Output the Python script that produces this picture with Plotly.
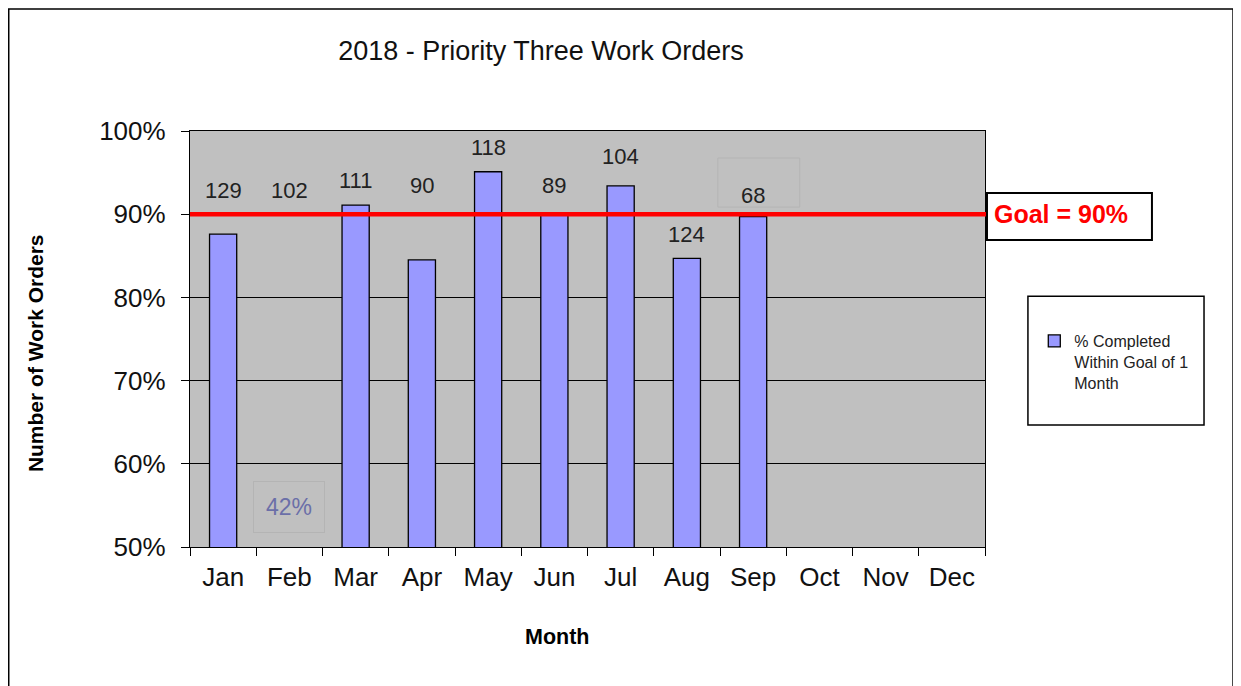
import plotly.graph_objects as go

months = ["Jan", "Feb", "Mar", "Apr", "May", "Jun", "Jul", "Aug", "Sep", "Oct", "Nov", "Dec"]
pct_completed = [87.6, 42.0, 91.1, 84.5, 95.1, 90.0, 93.4, 84.7, 89.7, None, None, None]
work_orders = [129, 102, 111, 90, 118, 89, 104, 124, 68]
label_y = [92.8, 92.8, 94.0, 93.4, 98.0, 93.4, 96.9, 87.6, 92.2]
goal = 90
y_ticks = [50, 60, 70, 80, 90, 100]

FONT = "Liberation Sans, Arial, sans-serif"

fig = go.Figure()
fig.add_trace(go.Bar(
    x=months, y=pct_completed,
    name="% Completed<br>Within Goal of 1<br>Month",
    marker=dict(color="#9999FF", line=dict(color="black", width=1.3)),
    width=0.41,
))

annotations = []
for m, n, ly in zip(months, work_orders, label_y):
    annotations.append(dict(x=m, y=ly, xref="x", yref="y", text=str(n), showarrow=False,
                            font=dict(family=FONT, size=22, color="#222222")))
# Feb value is below the axis minimum, shown as a text box
annotations.append(dict(x="Feb", y=54.8, xref="x", yref="y", text=f"{pct_completed[1]:.0f}%",
                        showarrow=False, font=dict(family=FONT, size=23, color="#6B6FA8"),
                        bordercolor="#B4B4B4", borderwidth=1, borderpad=12))
annotations.append(dict(x=1.0085, y=goal, xref="paper", yref="y", xanchor="left", yanchor="middle",
                        text="<b>Goal = 90%</b>", showarrow=False,
                        font=dict(family=FONT, size=25, color="#FF0000")))
annotations.append(dict(x=-0.195, y=0.466, xref="paper", yref="paper", textangle=-90,
                        xanchor="center", yanchor="middle",
                        text="<b>Number of Work Orders</b>", showarrow=False,
                        font=dict(family=FONT, size=21, color="black")))
annotations.append(dict(x=0.4616, y=-0.216, xref="paper", yref="paper",
                        xanchor="center", yanchor="middle",
                        text="<b>Month</b>", showarrow=False,
                        font=dict(family=FONT, size=21.5, color="black")))

shapes = [
    # outer frame
    dict(type="rect", xref="paper", yref="paper", x0=-0.228, x1=1.312, y0=-0.5, y1=1.2933,
         line=dict(color="black", width=1.5), fillcolor="rgba(0,0,0,0)", layer="below"),
    # faint text box around the Sep label
    dict(type="rect", xref="paper", yref="paper", x0=0.664, x1=0.767, y0=0.817, y1=0.935,
         line=dict(color="#B4B4B4", width=1), fillcolor="rgba(0,0,0,0)"),
    # goal line
    dict(type="line", xref="paper", yref="y", x0=0, x1=1.003, y0=goal, y1=goal,
         line=dict(color="#FF0000", width=4.5)),
    # goal box
    dict(type="rect", xref="paper", yref="paper", x0=1.0025, x1=1.21, y0=0.738, y1=0.851,
         line=dict(color="black", width=2), fillcolor="white"),
    # legend box
    dict(type="rect", xref="paper", yref="paper", x0=1.054, x1=1.2755, y0=0.293, y1=0.603,
         line=dict(color="black", width=1.5), fillcolor="rgba(0,0,0,0)"),
]

fig.update_layout(
    width=1241, height=686,
    margin=dict(l=182, r=264, t=123, b=147),
    paper_bgcolor="white", plot_bgcolor="#C0C0C0",
    font=dict(family=FONT, color="black"),
    title=dict(text="2018 - Priority Three Work Orders", xref="container", x=0.4295,
               xanchor="center", y=0.938, yanchor="middle",
               font=dict(family=FONT, size=27, color="#111111")),
    showlegend=True,
    legend=dict(x=1.062, y=0.536, xanchor="left", yanchor="top", bgcolor="rgba(0,0,0,0)",
                font=dict(family=FONT, size=16, color="#222222"), itemwidth=30,
                valign="top", tracegroupgap=0),
    annotations=annotations,
    shapes=shapes,
    bargap=0.59,
)
fig.update_xaxes(
    type="category", categoryorder="array", categoryarray=months,
    showline=True, linecolor="black", linewidth=1.3, mirror=True,
    ticks="outside", tickson="boundaries", ticklen=8, tickcolor="black", tickwidth=1.3,
    tickfont=dict(family=FONT, size=26, color="#111111"), showgrid=False,
    range=[-0.5, 11.5], ticklabelstandoff=7,
)
fig.update_yaxes(
    range=[50, 100], tickvals=y_ticks, ticktext=[f"{v}%" for v in y_ticks],
    showline=True, linecolor="black", linewidth=1.3, mirror=True,
    ticks="outside", ticklen=8, tickcolor="black", tickwidth=1.3,
    tickfont=dict(family=FONT, size=26, color="#111111"),
    showgrid=True, gridcolor="black", gridwidth=1.2, zeroline=False, ticklabelstandoff=10,
)

fig.write_html("out.html")
